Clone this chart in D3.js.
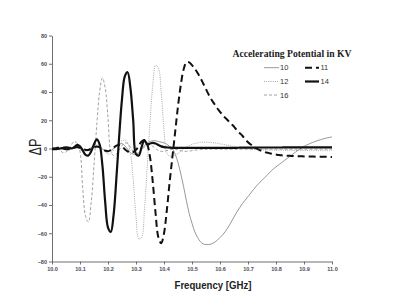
<!DOCTYPE html>
<html>
<head>
<meta charset="utf-8">
<script src="https://d3js.org/d3.v7.min.js"></script>
<style>
  body { margin: 0; background: #fff; }
  svg { display: block; }
</style>
</head>
<body>
<svg width="416" height="293"></svg>
<script>
// frequency grid (GHz)
var freq = [10.00,10.01,10.02,10.03,10.04,10.05,10.06,10.07,10.08,10.09,
  10.10,10.11,10.12,10.13,10.14,10.15,10.16,10.17,10.18,10.19,
  10.20,10.21,10.22,10.23,10.24,10.25,10.26,10.27,10.28,10.29,
  10.30,10.31,10.32,10.33,10.34,10.35,10.36,10.37,10.38,10.39,
  10.40,10.41,10.42,10.43,10.44,10.45,10.46,10.47,10.48,10.49,
  10.50,10.51,10.52,10.53,10.54,10.55,10.56,10.57,10.58,10.59,
  10.60,10.61,10.62,10.63,10.64,10.65,10.66,10.67,10.68,10.69,
  10.70,10.71,10.72,10.73,10.74,10.75,10.76,10.77,10.78,10.79,
  10.80,10.81,10.82,10.83,10.84,10.85,10.86,10.87,10.88,10.89,
  10.90,10.91,10.92,10.93,10.94,10.95,10.96,10.97,10.98,10.99,11.00];

// delta P for each accelerating potential (kV)
var kv10 = [0,0.5,0.5,0,-0.5,-0.5,0,0.5,1,0.5,
  0,-0.5,-1,-0.5,0.5,1,1,0.5,-0.5,-1.5,
  -2,-1.5,0,2,3.5,3.5,2,-0.5,-3,-4,
  -4,-3,-0.5,2,4,5,5.5,5.5,5,4.5,
  4,3,1.5,0,-4,-10,-18,-27,-37,-46,
  -53,-59,-63,-66,-67.5,-68,-68,-67.5,-66.5,-65,
  -63,-61,-58.5,-55.5,-52,-48.5,-45,-42,-39,-36.5,
  -34,-31.5,-29,-26.5,-24.5,-22.5,-20.5,-18.5,-16.5,-14.5,
  -13,-11.5,-10,-8.5,-7,-5.5,-4,-2.5,-1,0.3,
  1.5,2.5,3.4,4.2,5,5.7,6.3,6.9,7.4,7.8,8.2];

var kv11 = [0,0,0.5,0.5,0,-0.5,-0.5,0,0.5,1,
  0.5,0,-1,-1,0,1,1.5,1,-0.5,-1.5,
  -2,-1,0.5,2,2.5,1.5,-0.5,-2,-3,-2.5,
  -1,2,5,6,3,-6,-24,-46,-63,-67,
  -60,-44,-24,-6,12,30,45,56,61,61,
  59,56.5,53.5,50,46,42,38,34.5,31.5,28.5,
  26,23.5,21.5,19.5,17.5,15.5,13,11,9,6.5,
  4.5,2.8,1.2,0,-1,-1.8,-2.5,-3,-3.5,-4,
  -4.3,-4.6,-4.8,-5,-5.1,-5.2,-5.3,-5.4,-5.5,-5.5,
  -5.6,-5.6,-5.7,-5.7,-5.8,-5.8,-5.8,-5.9,-5.9,-5.9,-6];

var kv12 = [0,0.5,1,0.5,-0.5,-1,-0.5,0.5,1.5,1.5,
  0.5,-1,-2,-1.5,0,1.5,2.5,2,0,-2.5,
  -4,-3.5,-1,2,4.5,5.5,6,4,-3,-22,
  -48,-64,-63,-44,-13,19,45,59,57,40,
  13,-3,-5.5,-5,-4.5,-3.5,-2,-0.5,1,2,
  3,3.5,4,4.3,4.5,4.5,4.4,4.2,4,3.7,
  3.3,3,2.6,2.2,1.8,1.4,1,0.6,0.3,0,
  -0.2,-0.4,-0.6,-0.7,-0.8,-0.9,-1,-1,-1.1,-1.1,
  -1.2,-1.2,-1.2,-1.3,-1.3,-1.3,-1.3,-1.4,-1.4,-1.4,
  -1.4,-1.4,-1.5,-1.5,-1.5,-1.5,-1.5,-1.5,-1.5,-1.5,-1.5];

var kv14 = [-0.5,-0.5,-0.3,0,0.5,0.8,0.5,0,1,2.5,
  1.5,-1.5,-4.5,-5,-2,3,6.5,3,-12,-38,
  -56,-59,-47,-21,9,35,51,54,43,20,
  -4,-5,1,6,3,3.5,4,3.5,2.5,1.5,
  1,0.8,0.6,0.5,0.5,0.5,0.5,0.5,0.5,0.5,
  0.5,0.5,0.5,0.5,0.5,0.5,0.5,0.5,0.5,0.5,
  0.5,0.5,0.5,0.5,0.5,0.5,0.5,0.6,0.6,0.6,
  0.6,0.6,0.6,0.6,0.7,0.7,0.7,0.7,0.7,0.7,
  0.7,0.7,0.7,0.8,0.8,0.8,0.8,0.8,0.8,0.8,
  0.8,0.8,0.8,0.8,0.8,0.8,0.8,0.8,0.8,0.8,0.8];

var kv16 = [0,0.5,0,-1.5,-3,-2.5,0,3,5,3.5,
  -2,-29,-48,-52,-38,-12,17,40,50,43,
  22,-2,-5,-4,-1,2,4,3.5,1,-2,
  -3.5,-3,-1,1,2.5,2.5,1.5,0,-1.5,-2,
  -2,-1.5,-1,-0.5,-0.5,-1,-1.5,-2,-2,-1.8,
  -1.5,-1.2,-1,-0.8,-0.6,-0.5,-0.5,-0.5,-0.5,-0.5,
  -0.5,-0.5,-0.5,-0.5,-0.5,-0.5,-0.5,-0.5,-0.5,-0.5,
  -0.5,-0.5,-0.5,-0.5,-0.5,-0.5,-0.5,-0.5,-0.5,-0.5,
  -0.5,-0.5,-0.5,-0.5,-0.5,-0.5,-0.5,-0.5,-0.5,-0.5,
  -0.5,-0.5,-0.5,-0.5,-0.5,-0.5,-0.5,-0.5,-0.5,-0.5,-0.5];

var xTicks = [10.0,10.1,10.2,10.3,10.4,10.5,10.6,10.7,10.8,10.9,11.0];
var yTicks = [-80,-60,-40,-20,0,20,40,60,80];

// line styles, drawn in this order (thin ones underneath)
var series = [
  {name: "10", values: kv10, color: "#7d7d7d", width: 0.8, dash: null},
  {name: "16", values: kv16, color: "#8a8a8a", width: 0.8, dash: "3,2"},
  {name: "12", values: kv12, color: "#a8a8a8", width: 1, dash: "1,1.2"},
  {name: "11", values: kv11, color: "#111", width: 2, dash: "7,4"},
  {name: "14", values: kv14, color: "#111", width: 2.2, dash: null}
];

var svg = d3.select("svg");

var x = d3.scaleLinear().domain([10, 11]).range([52, 332]);
var y = d3.scaleLinear().domain([-80, 80]).range([261.5, 35.5]);

// axes
var xAxis = svg.append("g")
    .attr("transform", "translate(0," + y(-80) + ")")
    .call(d3.axisBottom(x).tickValues(xTicks).tickSize(3).tickSizeOuter(0)
      .tickFormat(d3.format(".1f")));
var yAxis = svg.append("g")
    .attr("transform", "translate(" + x(10) + ",0)")
    .call(d3.axisLeft(y).tickValues(yTicks).tickSize(3).tickSizeOuter(0));

svg.selectAll(".domain, .tick line")
    .attr("stroke", "#6f6f6f")
    .attr("stroke-width", 1);
svg.selectAll(".tick text")
    .style("font-family", "Arial, 'Liberation Sans', sans-serif")
    .style("font-size", "5.5px")
    .style("font-weight", "bold")
    .attr("fill", "#4a4a55");
xAxis.selectAll(".tick text").attr("dy", "0.9em").attr("y", 5);
yAxis.selectAll(".tick text").attr("x", -5);

// curves
var line = d3.line()
    .x(function(d){ return x(d[0]) })
    .y(function(d){ return y(d[1]) })
    .curve(d3.curveCatmullRom.alpha(0.5));

svg.append("g")
  .selectAll("path")
  .data(series)
  .enter()
  .append("path")
    .attr("d", function(s){ return line(freq.map(function(f, i){ return [f, s.values[i]] })) })
    .attr("fill", "none")
    .attr("stroke", function(s){ return s.color })
    .attr("stroke-width", function(s){ return s.width })
    .attr("stroke-dasharray", function(s){ return s.dash })
    .attr("stroke-linejoin", "round");

// axis titles
svg.append("text")
    .attr("x", 213)
    .attr("y", 289)
    .attr("text-anchor", "middle")
    .attr("textLength", 77)
    .attr("lengthAdjust", "spacingAndGlyphs")
    .style("font-family", "Arial, 'Liberation Sans', sans-serif")
    .style("font-size", "10.5px")
    .style("font-weight", "bold")
    .attr("fill", "#222")
    .text("Frequency [GHz]");

svg.append("text")
    .attr("transform", "translate(41,147) rotate(-90)")
    .attr("text-anchor", "middle")
    .attr("textLength", 17)
    .attr("lengthAdjust", "spacingAndGlyphs")
    .style("font-family", "Arial, 'Liberation Sans', sans-serif")
    .style("font-size", "16px")
    .attr("fill", "#222")
    .text("ΔP");

// legend
svg.append("text")
    .attr("x", 292)
    .attr("y", 57)
    .attr("text-anchor", "middle")
    .attr("textLength", 119)
    .attr("lengthAdjust", "spacingAndGlyphs")
    .style("font-family", "'Liberation Serif', 'Times New Roman', serif")
    .style("font-size", "9.5px")
    .style("font-weight", "bold")
    .attr("fill", "#222")
    .text("Accelerating Potential in KV");

var legendPos = {
  "10": [264, 67.7], "12": [264, 81.5], "16": [264, 95],
  "11": [305, 67.7], "14": [305, 81.5]
};

var legend = svg.append("g")
  .selectAll("g")
  .data(series)
  .enter()
  .append("g")
    .attr("transform", function(s){ return "translate(" + legendPos[s.name] + ")" });

legend.append("line")
    .attr("x1", 0)
    .attr("x2", function(s){ return s.width > 1.5 ? 14 : 15 })
    .attr("y1", 0)
    .attr("y2", 0)
    .attr("stroke", function(s){ return s.color })
    .attr("stroke-width", function(s){ return s.width })
    .attr("stroke-dasharray", function(s){ return s.dash });

legend.append("text")
    .attr("x", function(s){ return s.width > 1.5 ? 15.5 : 16 })
    .attr("y", 2.5)
    .style("font-family", "Arial, 'Liberation Sans', sans-serif")
    .style("font-size", "7.5px")
    .attr("fill", "#333")
    .text(function(s){ return s.name });
</script>
</body>
</html>
